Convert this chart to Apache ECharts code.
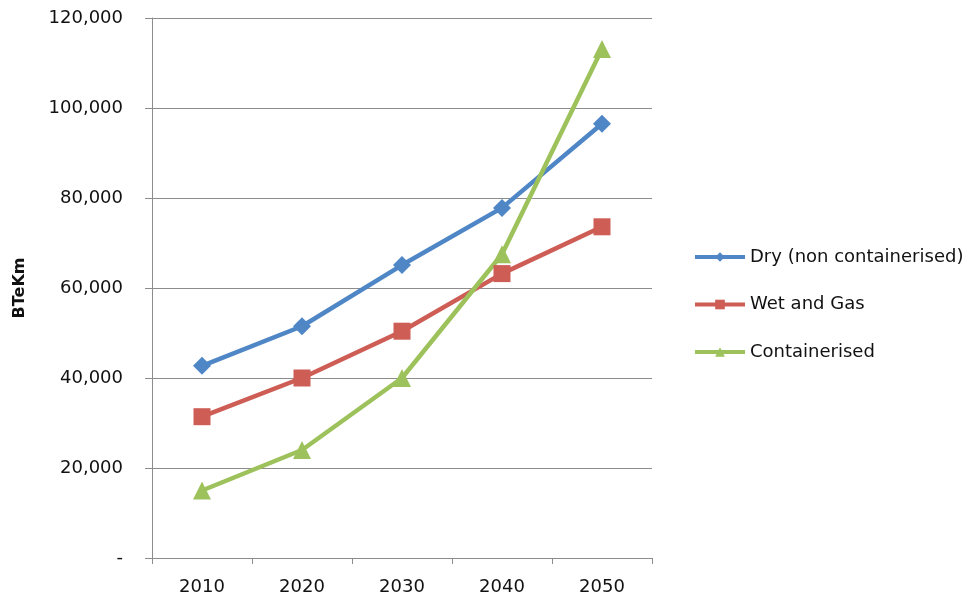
<!DOCTYPE html>
<html>
<head>
<meta charset="utf-8">
<script src="https://cdn.jsdelivr.net/npm/echarts@6/dist/echarts.min.js"></script>
<style>
  html, body { margin: 0; padding: 0; background: #fff; }
  #chart { width: 975px; height: 601px; }
</style>
</head>
<body>
<div id="chart"></div>
<script>
const years = ["2010", "2020", "2030", "2040", "2050"];
const dry = [42700, 51500, 65100, 77800, 96500];
const wetAndGas = [31400, 40000, 50400, 63200, 73600];
const containerised = [15000, 24000, 40000, 67500, 113100];

const font = "DejaVu Sans";
const gridColor = "#8c8c8c";

const chart = echarts.init(document.getElementById("chart"));

function line(name, data, color, symbol, size) {
  return {
    name,
    type: "line",
    data,
    symbol,
    symbolSize: size,
    itemStyle: { color },
    lineStyle: { color, width: 4.5 },
    emphasis: { disabled: true },
    z: 3,
  };
}

chart.setOption({
  animation: false,
  textStyle: { fontFamily: font },
  grid: { left: 152, right: 323, top: 18, bottom: 43 },
  legend: {
    orient: "vertical",
    left: 693,
    top: 247,
    padding: 0,
    itemWidth: 50,
    itemHeight: 12,
    itemGap: 27.5,
    lineStyle: { width: 4 },
    textStyle: { fontFamily: font, fontSize: 18, color: "#111", lineHeight: 20 },
    data: ["Dry (non containerised)", "Wet and Gas", "Containerised"],
  },
  xAxis: {
    type: "category",
    data: years,
    boundaryGap: true,
    axisLine: { lineStyle: { color: gridColor, width: 1 } },
    axisTick: { show: true, length: 6, lineStyle: { color: gridColor } },
    axisLabel: { fontFamily: font, fontSize: 18, color: "#111", margin: 20 },
  },
  yAxis: {
    type: "value",
    min: 0,
    max: 120000,
    interval: 20000,
    name: "BTeKm",
    nameLocation: "middle",
    nameGap: 124,
    nameTextStyle: { fontFamily: font, fontSize: 16, fontWeight: "bold", color: "#111" },
    axisLine: { show: true, lineStyle: { color: gridColor, width: 1 } },
    axisTick: { show: true, length: 7, lineStyle: { color: gridColor } },
    splitLine: { lineStyle: { color: gridColor, width: 1 } },
    axisLabel: {
      fontFamily: font,
      fontSize: 18,
      color: "#111",
      margin: 29,
      formatter: (v) => (v === 0 ? "-" : v.toLocaleString("en-US")),
    },
  },
  series: [
    line("Dry (non containerised)", dry, "#4f86c6", "diamond", 18),
    line("Wet and Gas", wetAndGas, "#cd5d55", "rect", 17),
    line("Containerised", containerised, "#9dc25c", "triangle", 18),
  ],
});
</script>
</body>
</html>
